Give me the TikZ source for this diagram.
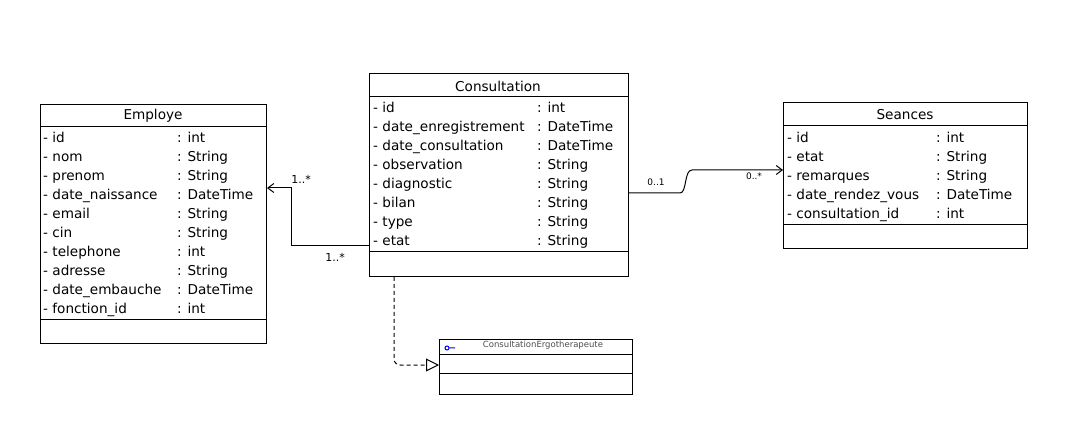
\documentclass[tikz,border=0pt]{standalone}
\usepackage{fontspec}
\setmainfont{DejaVu Sans}
\usetikzlibrary{arrows.meta}

\begin{document}
\begin{tikzpicture}[x=1pt,y=-1pt,
  classbox/.style={draw, line width=1pt, anchor=north west, inner sep=0pt},
  attr/.style={anchor=west, inner sep=0pt, text height=9pt, text depth=3pt,
    font=\fontsize{13.6}{15}\selectfont},
  classname/.style={inner sep=0pt, font=\fontsize{13.6}{15}\selectfont},
  mult/.style={inner sep=0pt, font=\fontsize{11}{12}\selectfont},
  link/.style={line width=1pt}]
  \useasboundingbox (0,0) rectangle (1073,427);

  % --- class boxes ---
  \node[classbox, minimum width=226pt, minimum height=239pt] (employe) at (40,104) {};
  \node[classbox, minimum width=259pt, minimum height=203pt] (consultation) at (369,73) {};
  \node[classbox, minimum width=244pt, minimum height=146pt] (seances) at (783,102) {};
  \node[classbox, minimum width=193pt, minimum height=55pt] (ergo) at (439,339) {};

  % --- compartment lines ---
  \draw[line width=1pt] (40,127) -- (266,127) (40,320) -- (266,320);
  \draw[line width=1pt] (369,97) -- (628,97) (369,252) -- (628,252);
  \draw[line width=1pt] (783,126) -- (1027,126) (783,225) -- (1027,225);
  \draw[line width=1pt] (439,355) -- (632,355) (439,373) -- (632,373);

  % --- class names ---
  \node[classname] (employetitle) at (153,116) {Employe};
  \node[classname] (consultationtitle) at (498,86) {Consultation};
  \node[classname] (seancestitle) at (905,115) {Seances};
  \node[inner sep=0pt, text=black!70, font=\fontsize{8.5}{10}\selectfont]
    (ergotitle) at (543,345) {ConsultationErgotherapeute};
  \draw[blue, line width=1pt] (447,348) circle (2) (449,348) -- (455,348);

  % --- Employe attributes ---
  \foreach \n/\t [count=\k from 0] in {id/int, nom/String, prenom/String,
      date\_naissance/DateTime, email/String, cin/String, telephone/int,
      adresse/String, date\_embauche/DateTime, fonction\_id/int} {
    \node[attr] (empname\k) at (43,140+19*\k) {- \n};
    \node[attr] (emptype\k) at (177,140+19*\k) {: \t};
  }

  % --- Consultation attributes ---
  \foreach \n/\t [count=\k from 0] in {id/int, date\_enregistrement/DateTime,
      date\_consultation/DateTime, observation/String, diagnostic/String,
      bilan/String, type/String, etat/String} {
    \node[attr] (conname\k) at (373,110+18.9*\k) {- \n};
    \node[attr] (contype\k) at (537,110+18.9*\k) {: \t};
  }

  % --- Seances attributes ---
  \foreach \n/\t [count=\k from 0] in {id/int, etat/String, remarques/String,
      date\_rendez\_vous/DateTime, consultation\_id/int} {
    \node[attr] (seaname\k) at (787,140+18.8*\k) {- \n};
    \node[attr] (seatype\k) at (936,140+18.8*\k) {: \t};
  }

  % --- connector ends ---
  \coordinate (conw) at (consultation.west |- 0,246);
  \coordinate (empe) at (employe.east |- 0,188);
  \coordinate (cone) at (consultation.east |- 0,193);
  \coordinate (seaw) at (seances.west |- 0,170);
  \coordinate (cons) at (consultation.south west -| 394,0);
  \coordinate (ergow) at (ergo.west |- 0,365);

  % --- associations ---
  \draw[link, -{Straight Barb[length=6pt, width=9pt]}]
    (conw) -| (291,188) -- (empe);
  \node[mult] (mult1) at (301,179) {1..*};
  \node[mult] (mult2) at (335,257) {1..*};

  \draw[link, -{Straight Barb[length=6pt, width=9pt]}]
    (cone) -- (680,193) .. controls (687,193) and (684,170) .. (692,170) -- (seaw);
  \node[mult, font=\fontsize{9}{10}\selectfont] (mult3) at (656,182) {0..1};
  \node[mult, font=\fontsize{9}{10}\selectfont] (mult4) at (754,176) {0..*};

  % --- realization ---
  \draw[link, dash pattern=on 4pt off 3pt, rounded corners=6pt,
    -{Triangle[open, length=13pt, width=13pt]}]
    (cons) -- (394,365) -- (ergow);
\end{tikzpicture}
\end{document}
